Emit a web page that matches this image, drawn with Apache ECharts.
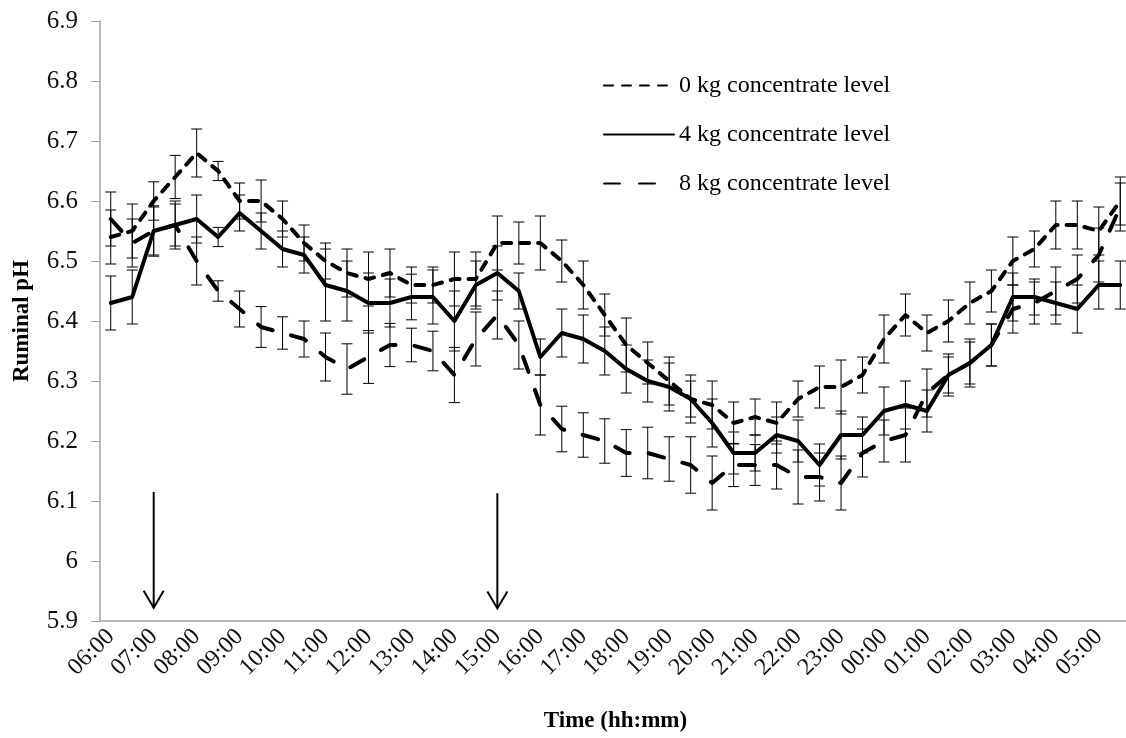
<!DOCTYPE html>
<html>
<head>
<meta charset="utf-8">
<script src="https://cdn.jsdelivr.net/npm/echarts@6/dist/echarts.min.js"></script>
<style>
  html, body { margin: 0; padding: 0; background: #fff; }
  #chart { width: 1126px; height: 738px; }
</style>
</head>
<body>
<div id="chart"></div>
<script>
// half-hourly sampling, 06:00 .. 05:30
const times = [
  "06:00", "06:30", "07:00", "07:30", "08:00", "08:30", "09:00", "09:30",
  "10:00", "10:30", "11:00", "11:30", "12:00", "12:30", "13:00", "13:30",
  "14:00", "14:30", "15:00", "15:30", "16:00", "16:30", "17:00", "17:30",
  "18:00", "18:30", "19:00", "19:30", "20:00", "20:30", "21:00", "21:30",
  "22:00", "22:30", "23:00", "23:30", "00:00", "00:30", "01:00", "01:30",
  "02:00", "02:30", "03:00", "03:30", "04:00", "04:30", "05:00", "05:30"
];

const kg0 = [
  6.54, 6.55, 6.60, 6.64, 6.68, 6.65, 6.60, 6.60, 6.57, 6.53, 6.50, 6.48,
  6.47, 6.48, 6.46, 6.46, 6.47, 6.47, 6.53, 6.53, 6.53, 6.50, 6.46, 6.41,
  6.36, 6.33, 6.30, 6.27, 6.26, 6.23, 6.24, 6.23, 6.27, 6.29, 6.29, 6.31,
  6.37, 6.41, 6.38, 6.40, 6.43, 6.45, 6.50, 6.52, 6.56, 6.56, 6.55, 6.60
];
const kg4 = [
  6.43, 6.44, 6.55, 6.56, 6.57, 6.54, 6.58, 6.55, 6.52, 6.51, 6.46, 6.45,
  6.43, 6.43, 6.44, 6.44, 6.40, 6.46, 6.48, 6.45, 6.34, 6.38, 6.37, 6.35,
  6.32, 6.30, 6.29, 6.27, 6.23, 6.18, 6.18, 6.21, 6.20, 6.16, 6.21, 6.21,
  6.25, 6.26, 6.25, 6.31, 6.33, 6.36, 6.44, 6.44, 6.43, 6.42, 6.46, 6.46
];
const kg8 = [
  6.57, 6.53, 6.55, 6.56, 6.50, 6.45, 6.42, 6.39, 6.38, 6.37, 6.34, 6.32,
  6.34, 6.36, 6.36, 6.35, 6.31, 6.37, 6.41, 6.36, 6.26, 6.22, 6.21, 6.20,
  6.18, 6.18, 6.17, 6.16, 6.13, 6.16, 6.16, 6.16, 6.14, 6.14, 6.13, 6.18,
  6.20, 6.21, 6.28, 6.31, 6.33, 6.36, 6.42, 6.43, 6.45, 6.47, 6.51, 6.59
];

// standard errors
const se0 = [
  0.045, 0.045, 0.032, 0.036, 0.040, 0.016, 0.030, 0.035, 0.030, 0.030, 0.030, 0.040,
  0.045, 0.040, 0.030, 0.030, 0.045, 0.045, 0.045, 0.035, 0.045, 0.035, 0.040, 0.035,
  0.045, 0.035, 0.040, 0.030, 0.040, 0.035, 0.030, 0.035, 0.030, 0.035, 0.045, 0.030,
  0.040, 0.035, 0.030, 0.035, 0.035, 0.035, 0.040, 0.030, 0.040, 0.040, 0.040, 0.040
];
const se4 = [
  0.045, 0.045, 0.042, 0.035, 0.040, 0.016, 0.030, 0.030, 0.030, 0.030, 0.060, 0.050,
  0.050, 0.040, 0.038, 0.045, 0.050, 0.040, 0.045, 0.030, 0.030, 0.040, 0.040, 0.040,
  0.040, 0.035, 0.040, 0.040, 0.040, 0.035, 0.030, 0.030, 0.035, 0.035, 0.040, 0.030,
  0.040, 0.040, 0.035, 0.030, 0.035, 0.035, 0.040, 0.030, 0.035, 0.040, 0.040, 0.040
];
const se8 = [
  0.045, 0.040, 0.040, 0.040, 0.040, 0.017, 0.030, 0.034, 0.027, 0.030, 0.040, 0.042,
  0.044, 0.036, 0.028, 0.033, 0.046, 0.045, 0.040, 0.040, 0.050, 0.038, 0.037, 0.037,
  0.039, 0.043, 0.037, 0.047, 0.045, 0.036, 0.034, 0.040, 0.045, 0.040, 0.045, 0.040,
  0.035, 0.045, 0.040, 0.035, 0.040, 0.035, 0.040, 0.035, 0.040, 0.040, 0.045, 0.040
];

// feeding arrows: [time, top pH, tip pH]
const feedArrows = [["07:00", 6.115, 5.922], ["15:00", 6.113, 5.921]];

const seriesNames = ["0 kg concentrate level", "4 kg concentrate level", "8 kg concentrate level"];

const FONT = '"Liberation Serif", "Times New Roman", serif';

function errData(vals, se) {
  return vals.map((v, i) => [i, v - se[i], v + se[i]]);
}

function renderErr(params, api) {
  const lo = api.coord([api.value(0), api.value(1)]);
  const hi = api.coord([api.value(0), api.value(2)]);
  const w = 5.5;
  const st = { stroke: "#000", lineWidth: 1 };
  return {
    type: "group",
    children: [
      { type: "line", shape: { x1: lo[0], y1: lo[1], x2: hi[0], y2: hi[1] }, style: st },
      { type: "line", shape: { x1: lo[0] - w, y1: lo[1], x2: lo[0] + w, y2: lo[1] }, style: st },
      { type: "line", shape: { x1: hi[0] - w, y1: hi[1], x2: hi[0] + w, y2: hi[1] }, style: st },
    ],
  };
}

function renderArrow(params, api) {
  const top = api.coord([api.value(0), api.value(1)]);
  const tip = api.coord([api.value(0), api.value(2)]);
  const st = { stroke: "#000", lineWidth: 2, fill: null };
  return {
    type: "group",
    children: [
      { type: "line", shape: { x1: top[0], y1: top[1], x2: tip[0], y2: tip[1] }, style: st },
      {
        type: "polyline",
        shape: { points: [[tip[0] - 10, tip[1] - 17], [tip[0], tip[1]], [tip[0] + 10, tip[1] - 17]] },
        style: st,
      },
    ],
  };
}

function errSeries(vals, se) {
  return {
    type: "custom",
    renderItem: renderErr,
    data: errData(vals, se),
    silent: true,
    z: 1,
  };
}

const chart = echarts.init(document.getElementById("chart"));

chart.setOption({
  animation: false,
  backgroundColor: "#fff",
  textStyle: { fontFamily: FONT, color: "#000" },
  grid: { left: 100, right: -5, top: 21, bottom: 117, outerBoundsMode: "none", containLabel: false },
  legend: {
    orient: "vertical",
    left: 603,
    top: 73,
    padding: 0,
    itemWidth: 70,
    itemHeight: 14,
    itemGap: 24,
    data: seriesNames,
    itemStyle: { opacity: 0 },
    textStyle: { fontFamily: FONT, fontSize: 24, color: "#000", lineHeight: 25 },
  },
  xAxis: {
    type: "category",
    data: times,
    boundaryGap: true,
    name: "Time (hh:mm)",
    nameLocation: "middle",
    nameGap: 89,
    nameTextStyle: { fontFamily: FONT, fontSize: 23, fontWeight: "bold", color: "#000" },
    axisLine: { lineStyle: { color: "#a0a0a0", width: 1.5 } },
    axisTick: { interval: 0, alignWithLabel: true, length: 6, lineStyle: { color: "#a0a0a0" } },
    axisLabel: {
      interval: 1,
      rotate: 45,
      margin: 12,
      fontFamily: FONT,
      fontSize: 24,
      color: "#111",
    },
    splitLine: { show: false },
  },
  yAxis: {
    type: "value",
    min: 5.9,
    max: 6.9,
    interval: 0.1,
    name: "Ruminal pH",
    nameLocation: "middle",
    nameGap: 66,
    nameRotate: 90,
    nameTextStyle: { fontFamily: FONT, fontSize: 23, fontWeight: "bold", color: "#000" },
    axisLine: { show: true, lineStyle: { color: "#a0a0a0", width: 1.5 } },
    axisTick: { show: true, length: 9, lineStyle: { color: "#a0a0a0" } },
    axisLabel: {
      margin: 22,
      fontFamily: FONT,
      fontSize: 25,
      color: "#111",
      formatter: (v) => String(Math.round(v * 10) / 10),
    },
    splitLine: { show: false },
  },
  series: [
    errSeries(kg0, se0),
    errSeries(kg4, se4),
    errSeries(kg8, se8),
    {
      name: seriesNames[0],
      type: "line",
      data: kg0,
      symbol: "none",
      z: 3,
      lineStyle: { color: "#000", width: 4, type: [9, 9], cap: "round", join: "round" },
      itemStyle: { color: "#000" },
    },
    {
      name: seriesNames[1],
      type: "line",
      data: kg4,
      symbol: "none",
      z: 3,
      lineStyle: { color: "#000", width: 4, type: "solid", cap: "round", join: "round" },
      itemStyle: { color: "#000" },
    },
    {
      name: seriesNames[2],
      type: "line",
      data: kg8,
      symbol: "none",
      z: 3,
      lineStyle: { color: "#000", width: 4, type: [16, 19], cap: "round", join: "round" },
      itemStyle: { color: "#000" },
    },
    {
      type: "custom",
      renderItem: renderArrow,
      data: feedArrows,
      silent: true,
      z: 4,
    },
  ],
});
</script>
</body>
</html>
